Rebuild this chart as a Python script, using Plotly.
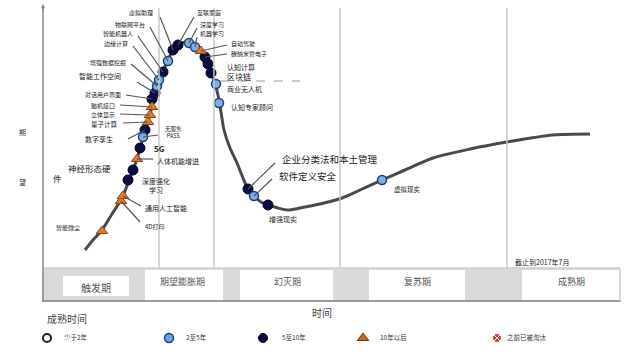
import plotly.graph_objects as go

# ---------------- data ----------------
# hype curve (time, expectation) (y grows downward on screen)
curve_x = [85, 93, 102, 112, 122, 128, 133, 137, 140, 144, 148, 152, 155, 159, 163, 168, 173, 179, 185,
           191, 196, 201, 206, 210, 214, 218, 221, 224, 230, 237, 243, 248, 254, 261, 268, 278, 288, 300,
           320, 342, 360, 382, 405, 433, 470, 507, 553, 590]
curve_y = [250, 240, 230, 214, 198, 183, 170, 159, 148, 136, 122, 107, 95, 82, 71, 60, 50, 45, 42,
           43, 46, 51, 58, 68, 80, 95, 112, 130, 148, 163, 178, 189, 196, 202, 205, 208, 210, 208,
           204, 198, 190, 180, 170, 158, 149, 142, 135, 134]

tech_names = ["智能微尘", "4D打印", "通用人工智能", "深度强化学习", "神经形态硬件", "人体机能增进", "5G",
              "无服务PASS", "数字孪生", "量子计算", "立体显示", "脑机接口", "对话用户界面", "智能工作空间",
              "增强数据挖掘", "边缘计算", "智能机器人", "物联网平台", "虚拟助理", "互联家庭", "深度学习",
              "机器学习", "自动驾驶", "碳纳米管电子", "认知计算", "区块链", "商业无人机", "认知专家顾问",
              "企业分类法和本土管理", "软件定义安全", "增强现实", "虚拟现实"]
tech_x = [102, 121, 123, 128, 133, 137, 140, 143, 145, 148, 150, 152, 152, 155, 157, 159, 163, 168, 173,
          178, 189, 195, 201, 205, 208, 211, 216, 219, 248, 254, 268, 382]
tech_y = [231, 201, 196, 180, 170, 159, 148, 137, 130, 122, 115, 107, 99, 93, 86, 80, 72, 61, 50,
          45, 43, 47, 51, 57, 64, 73, 84, 103, 189, 196, 205, 180]
# maturity: 1 = <2y, 2 = 2-5y, 3 = 5-10y, 4 = >10y
tech_cat = [4, 4, 4, 3, 3, 4, 3, 2, 3, 4, 4, 4, 3, 3, 2, 2, 3, 2, 3, 3, 2, 2, 4, 3, 3, 3, 2, 2, 3, 2, 3, 2]

phase_names = ["触发期", "期望膨胀期", "幻灭期", "复苏期", "成熟期"]
legend_names = ["少于2年", "2至5年", "5至10年", "10年以后", "之前已被淘汰"]

# ---------------- styles ----------------
FONT = "Noto Sans CJK SC"
cat_style = {
    2: dict(symbol="circle", size=9, color="#7fb0e3", line=dict(color="#1f3f7a", width=1.5)),
    3: dict(symbol="circle", size=10, color="#0c0c45", line=dict(color="#000022", width=1)),
    4: dict(symbol="triangle-up", size=10, color="#e07b28", line=dict(color="#8a4a10", width=1)),
}

fig = go.Figure()

# vertical divider lines (upper area)
for vx in [159, 214, 340, 507]:
    fig.add_shape(type="line", x0=vx, x1=vx, y0=8, y1=268, line=dict(color="#c8c8c8", width=1.5))
# faint dashed guide
fig.add_shape(type="line", x0=220, x1=300, y0=81, y1=81, line=dict(color="#9a9a9a", width=1, dash="dash"))

# phase band
band_top, band_bot = 268, 301
fig.add_shape(type="rect", x0=42, x1=620, y0=band_top, y1=band_bot, fillcolor="#d9d9d9",
              line=dict(width=0), layer="below")
white_cells = [(63, 129, 276, 296), (145, 223, 270, 301), (240, 333, 270, 301),
               (369, 465, 270, 301), (522, 620, 270, 301)]
label_pos = [(96, 287), (182, 281), (287, 281), (417, 281), (571, 281)]
for (x0, x1, y0, y1), name, (lx, ly) in zip(white_cells, phase_names, label_pos):
    fig.add_shape(type="rect", x0=x0, x1=x1, y0=y0, y1=y1, fillcolor="white", line=dict(width=0), layer="below")
    fig.add_annotation(x=lx, y=ly, text=name, showarrow=False,
                       font=dict(family=FONT, size=10 if name == "触发期" else 9, color="#555"))
fig.add_shape(type="line", x0=42, x1=620, y0=band_top, y1=band_top, line=dict(color="#cfcfcf", width=1.5))
fig.add_shape(type="line", x0=42, x1=621, y0=band_bot, y1=band_bot, line=dict(color="#9a9a9a", width=2))
fig.add_shape(type="line", x0=620, x1=620, y0=band_top, y1=band_bot, line=dict(color="#cfcfcf", width=1.5))

# y axis line with arrow
fig.add_shape(type="line", x0=43, x1=43, y0=6, y1=301, line=dict(color="#8a8a8a", width=1.5))
fig.add_annotation(x=43, y=4, ax=43, ay=14, axref="x", ayref="y", showarrow=True, arrowhead=2,
                   arrowsize=0.7, arrowwidth=1.2, arrowcolor="#8a8a8a", text="")

# curve
fig.add_trace(go.Scatter(x=curve_x, y=curve_y, mode="lines", line=dict(color="#4a4a4a", width=3, shape="spline",
                                                                        smoothing=0.8), hoverinfo="skip"))

# leader lines: name -> (x0, y0) start near the label
leaders = {
    "虚拟助理": (160, 17), "物联网平台": (150, 27), "智能机器人": (138, 36), "边缘计算": (133, 46),
    "增强数据挖掘": (131, 64), "智能工作空间": (137, 82), "对话用户界面": (126, 95), "脑机接口": (120, 105),
    "立体显示": (120, 114), "量子计算": (123, 123), "数字孪生": (128, 139), "无服务PASS": (158, 135),
    "人体机能增进": (153, 159), "通用人工智能": (141, 206), "4D打印": (140, 222), "互联家庭": (194, 17),
    "深度学习": (197, 28), "机器学习": (197, 37), "自动驾驶": (227, 45), "碳纳米管电子": (227, 54),
    "企业分类法和本土管理": (275, 163), "软件定义安全": (272, 179),
}
for n, x, y in zip(tech_names, tech_x, tech_y):
    if n in leaders:
        lx, ly = leaders[n]
        fig.add_shape(type="line", x0=lx, y0=ly, x1=x, y1=y, line=dict(color="#555", width=1.2))

# markers
for c in [3, 2, 4]:
    xs = [x for x, k in zip(tech_x, tech_cat) if k == c]
    ys = [y for y, k in zip(tech_y, tech_cat) if k == c]
    st = cat_style[c]
    fig.add_trace(go.Scatter(x=xs, y=ys, mode="markers", marker=st, hoverinfo="skip"))

# labels: name -> (x, y, anchor, size, text)
labels = {
    "虚拟助理": (155, 12, "right", 6, None), "物联网平台": (147, 24, "right", 6, None),
    "智能机器人": (135, 33, "right", 6, None), "边缘计算": (130, 43, "right", 6, None),
    "增强数据挖掘": (128, 62, "right", 6, None), "智能工作空间": (123, 76, "right", 7, None),
    "对话用户界面": (123, 94, "right", 6, None), "脑机接口": (117, 105, "right", 6, None),
    "立体显示": (117, 114, "right", 6, None), "量子计算": (120, 123.5, "right", 6.5, None),
    "数字孪生": (115, 139, "right", 7, None), "神经形态硬件": (113, 168, "right", 8.5, "神经形态硬"),
    "智能微尘": (82, 227, "right", 6, None),
    "无服务PASS": (163, 132, "left", 5.5, "无服务<br>PASS"), "5G": (152, 148, "left", 8, "<b>5G</b>"),
    "人体机能增进": (155, 161, "left", 7, None), "深度强化学习": (140, 185, "left", 7, "深度强化<br>学习"),
    "通用人工智能": (143, 208, "left", 7, None), "4D打印": (143, 226, "left", 6, None),
    "互联家庭": (195, 12, "left", 6, None), "深度学习": (198, 24, "left", 6, None),
    "机器学习": (198, 33, "left", 6, None), "自动驾驶": (229, 43, "left", 6, None),
    "碳纳米管电子": (229, 53, "left", 6, None), "认知计算": (225, 67, "left", 7, None),
    "区块链": (225, 76, "left", 8, None), "商业无人机": (225, 89, "left", 7, None),
    "认知专家顾问": (229, 107, "left", 7, None),
    "企业分类法和本土管理": (280, 159, "left", 9.5, None), "软件定义安全": (277, 176, "left", 9.5, None),
    "增强现实": (267, 219, "left", 7, None), "虚拟现实": (392, 189, "left", 6.5, None),
}
for n in tech_names:
    lx, ly, anc, sz, txt = labels[n]
    fig.add_annotation(x=lx, y=ly, text=txt or n, showarrow=False, xanchor=anc, yanchor="middle",
                       font=dict(family=FONT, size=sz, color="#222"))

# stray pieces of text
fig.add_annotation(x=57, y=178, text="件", showarrow=False, font=dict(family=FONT, size=8.5, color="#222"))
fig.add_annotation(x=22, y=132, text="期", showarrow=False, font=dict(family=FONT, size=7, color="#333"))
fig.add_annotation(x=22, y=182, text="望", showarrow=False, font=dict(family=FONT, size=7, color="#333"))
fig.add_annotation(x=513, y=262, text="截止到2017年7月", showarrow=False, xanchor="left",
                   font=dict(family=FONT, size=7, color="#222"))
fig.add_annotation(x=322, y=312, text="时间", showarrow=False, font=dict(family=FONT, size=10, color="#444"))
fig.add_annotation(x=45, y=318, text="成熟时间", showarrow=False, xanchor="left",
                   font=dict(family=FONT, size=10, color="#444"))

# legend
leg_x = [47, 169, 263, 363, 497]
leg_y = 338
leg_styles = [
    dict(symbol="circle-open", size=8, color="#222", line=dict(color="#222", width=2)),
    dict(symbol="circle", size=9, color="#6fa0e0", line=dict(color="#1f3f7a", width=1.5)),
    dict(symbol="circle", size=9, color="#0c0c45", line=dict(color="#000022", width=1)),
    dict(symbol="triangle-up", size=10, color="#c8661e", line=dict(color="#6a3a10", width=1)),
    dict(symbol="circle-x", size=9, color="#e03838", line=dict(color="white", width=1)),
]
leg_text_x = [62, 184, 280, 378, 505]
for lx, st, tx, name in zip(leg_x, leg_styles, leg_text_x, legend_names):
    fig.add_trace(go.Scatter(x=[lx], y=[leg_y], mode="markers", marker=st, hoverinfo="skip"))
    fig.add_annotation(x=tx, y=leg_y - 1, text=name, showarrow=False, xanchor="left",
                       font=dict(family=FONT, size=6.5, color="#333"))

fig.update_layout(
    width=640, height=358, margin=dict(l=0, r=0, t=0, b=0),
    paper_bgcolor="white", plot_bgcolor="white", showlegend=False,
    xaxis=dict(range=[0, 640], visible=False, fixedrange=True),
    yaxis=dict(range=[358, 0], visible=False, fixedrange=True),
)
fig.write_html("out.html")
